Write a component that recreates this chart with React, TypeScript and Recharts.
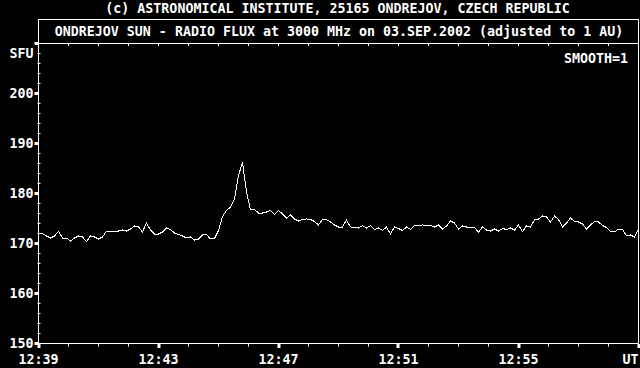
import React from "react";
import { LineChart, Line, XAxis, YAxis, ReferenceLine } from "recharts";

// one sample every 8 s from 12:39:00 UT
const SAMPLE_STEP = 8;
const flux = [
  172.1, 172.0, 171.5, 171.1, 171.5, 172.4, 171.1, 171.1, 170.5, 171.1,
  171.5, 171.3, 170.4, 171.5, 171.3, 170.9, 171.3, 172.5, 172.5, 172.5,
  172.5, 172.7, 172.5, 172.9, 173.5, 173.3, 172.3, 174.1, 172.7, 171.9,
  171.9, 172.3, 173.1, 172.8, 172.1, 171.8, 171.5, 171.1, 171.3, 170.7,
  170.9, 171.7, 171.8, 170.9, 171.0, 172.6, 175.4, 176.6, 177.3, 178.9,
  183.6, 186.2, 180.3, 176.7, 176.8, 176.1, 176.1, 176.3, 176.6, 175.8,
  176.6, 175.9, 175.1, 175.7, 174.9, 174.5, 174.8, 174.9, 174.8, 174.4,
  173.7, 174.8, 174.8, 174.3, 173.7, 173.3, 173.3, 174.7, 173.3, 173.2,
  173.1, 173.6, 173.1, 173.6, 172.8, 173.1, 172.6, 173.3, 171.9, 173.3,
  173.0, 172.6, 173.3, 172.8, 173.6, 173.6, 173.7, 173.6, 173.6, 173.3,
  173.7, 172.9, 173.5, 174.5, 174.1, 172.9, 173.5, 173.3, 173.3, 173.2,
  172.3, 173.3, 172.7, 172.5, 172.9, 172.5, 173.0, 172.8, 173.1, 172.7,
  173.7, 172.4, 173.5, 173.3, 174.7, 174.9, 175.5, 175.3, 174.3, 175.5,
  174.8, 173.3, 174.1, 175.1, 174.4, 174.3, 173.9, 172.9, 173.7, 174.4,
  174.3, 173.6, 173.2, 172.4, 172.3, 172.9, 172.9, 171.5, 171.7, 171.3,
  172.9,
];

const xTicks = [0, 60, 120, 180, 240, 300, 360, 420, 480, 540, 600, 660, 720, 780, 840, 900, 960, 1020, 1080, 1140, 1200];
const xLabels: Record<number, string> = {
  0: "12:39",
  240: "12:43",
  480: "12:47",
  720: "12:51",
  960: "12:55",
  1200: "UT",
};
const yTicks = [150, 152, 154, 156, 158, 160, 162, 164, 166, 168, 170, 172, 174, 176, 178, 180, 182, 184, 186, 188, 190, 192, 194, 196, 198, 200, 202, 204, 206, 208, 210];
const yLabels: Record<number, string> = {
  150: "150",
  160: "160",
  170: "170",
  180: "180",
  190: "190",
  200: "200",
  208: "SFU",
};

const copyright = "(c) ASTRONOMICAL INSTITUTE, 25165 ONDREJOV, CZECH REPUBLIC";
const title = "ONDREJOV SUN - RADIO FLUX at 3000 MHz on 03.SEP.2002 (adjusted to 1 AU)";
const smoothLabel = "SMOOTH=1";

const data = flux.map((v, i) => ({ t: i * SAMPLE_STEP, v }));

const FONT = "'DejaVu Sans Mono', 'Liberation Mono', monospace";
const FS = 13.3;
const PLOT_TOP = 43.5;

const XTick = (props: any) => {
  const { x, y, payload } = props;
  const label = xLabels[payload.value];
  const major = label !== undefined;
  const last = payload.value === 1200;
  return (
    <g>
      {major ? (
        <rect x={Math.round(x) - 1.5} y={y + 0.5} width={3} height={4} fill="#fff" />
      ) : (
        <line x1={x} x2={x} y1={y} y2={y + 3} stroke="#fff" />
      )}
      <line x1={x} x2={x} y1={PLOT_TOP} y2={PLOT_TOP + 2.5} stroke="#fff" />
      {major && (
        <text
          x={x}
          y={y + 20.5}
          textAnchor={last ? "end" : "middle"}
          fill="#fff"
          fontFamily={FONT}
          fontWeight="bold"
          fontSize={FS}
        >
          {label}
        </text>
      )}
    </g>
  );
};

const YTick = (props: any) => {
  const { x, y, payload } = props;
  const label = yLabels[payload.value];
  const major = payload.value % 10 === 0;
  return (
    <g>
      {major ? (
        <rect x={x - 4} y={y - 1.5} width={4} height={3} fill="#fff" />
      ) : (
        <line x1={x - 1} x2={x + 2} y1={y} y2={y} stroke="#fff" />
      )}
      {label && (
        <text
          x={x - 5}
          y={y + 4.5}
          textAnchor="end"
          fill="#fff"
          fontFamily={FONT}
          fontWeight="bold"
          fontSize={FS}
        >
          {label}
        </text>
      )}
    </g>
  );
};

export default function App() {
  return (
    <div style={{ position: "relative", width: 640, height: 368, background: "#000" }}>
      <style>{"body{margin:0;background:#000}"}</style>
      <LineChart width={640} height={368} data={data} margin={{ top: 43.5, right: 1.5, left: 0, bottom: 0 }}>
        <XAxis
          type="number"
          dataKey="t"
          domain={[0, 1200]}
          ticks={xTicks}
          interval={0}
          height={24.5}
          tickSize={0}
          tickMargin={0}
          tickLine={false}
          axisLine={{ stroke: "#fff" }}
          tick={<XTick />}
        />
        <YAxis
          type="number"
          domain={[150, 210]}
          ticks={yTicks}
          interval={0}
          width={38.5}
          tickSize={0}
          tickMargin={0}
          tickLine={false}
          axisLine={{ stroke: "#fff" }}
          tick={<YTick />}
        />
        <ReferenceLine x={1200} stroke="#fff" />
        <ReferenceLine y={210} stroke="#fff" />
        <Line
          type="linear"
          dataKey="v"
          stroke="#fff"
          strokeWidth={1}
          shapeRendering="crispEdges"
          dot={false}
          isAnimationActive={false}
        />
      </LineChart>
      <svg width={640} height={368} style={{ position: "absolute", left: 0, top: 0, pointerEvents: "none" }}>
        <rect x={38.5} y={19.5} width={600} height={24} fill="none" stroke="#fff" />
        <g fill="#fff" fontFamily={FONT} fontWeight="bold" fontSize={FS}>
          <text x={337.5} y={13} textAnchor="middle">{copyright}</text>
          <text x={339} y={36} textAnchor="middle">{title}</text>
          <text x={628} y={63} textAnchor="end">{smoothLabel}</text>
        </g>
      </svg>
    </div>
  );
}
